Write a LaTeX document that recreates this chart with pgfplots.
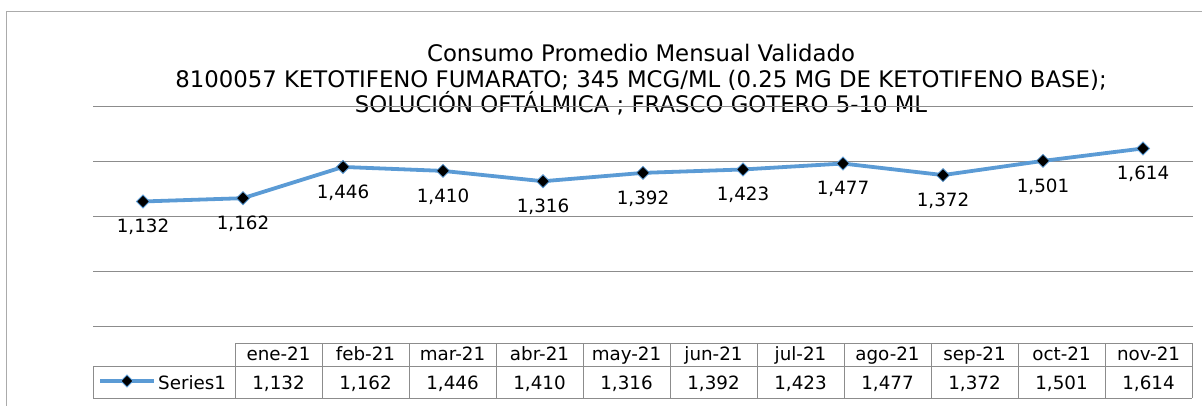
\documentclass[border=0pt]{standalone}
\usepackage{pgfplots}
\pgfplotsset{compat=1.18}
\usepackage{fontspec}
\setmainfont{DejaVu Sans}
\definecolor{serie}{HTML}{5B9BD5}
\definecolor{grillas}{HTML}{8C8C8C}
\definecolor{marco}{HTML}{ABABAB}

\newcommand{\meses}{ene-21,feb-21,mar-21,abr-21,may-21,jun-21,jul-21,ago-21,sep-21,oct-21,nov-21}

\begin{document}
\begin{tikzpicture}[x=1pt,y=1pt]
\path[use as bounding box] (0,0) rectangle (1202,405);
% marco del area del grafico
\draw[marco, line width=1pt] (6,-5) -- (6,393.5) -- (1210,393.5);

% titulo
\begin{scope}[every node/.style={font=\fontsize{22.8}{25}\selectfont, anchor=base, inner sep=0pt}]
\node at (641,343) {Consumo Promedio Mensual Validado};
\node at (641,317) {8100057 KETOTIFENO FUMARATO; 345 MCG/ML (0.25 MG DE KETOTIFENO BASE);};
\node at (641,292) {SOLUCIÓN OFTÁLMICA ; FRASCO GOTERO 5-10 ML};
\end{scope}

\begin{axis}[
    at={(93pt,79pt)}, anchor=south west,
    scale only axis, width=1100pt, height=220pt,
    xmin=-0.5, xmax=10.5, ymin=0, ymax=2000,
    ytick={0,500,...,2000}, yticklabels={},
    xtick=\empty,
    ymajorgrids,
    major grid style={grillas, line width=1pt},
    axis line style={draw=none},
    major tick length=0pt,
    clip=false,
]
\addplot[serie, line width=3.8pt, mark=square*, mark size=4.6pt,
    mark options={fill=black, draw=serie, line width=0.8pt, rotate=45},
    nodes near coords={\pgfmathprintnumber[fixed, precision=0, 1000 sep={,}, assume math mode=true]{\pgfplotspointmeta}},
    every node near coord/.append style={anchor=north, yshift=-14pt, text=black, font=\fontsize{18.3}{18.3}\selectfont},
] coordinates {
    (0,1132) (1,1162) (2,1446) (3,1410) (4,1316) (5,1392)
    (6,1423) (7,1477) (8,1372) (9,1501) (10,1614)
};
\end{axis}

% tabla de datos
\begin{scope}[grillas, line width=1pt]
\draw (235,62) -- (1192,62);
\draw (93,39) -- (1192,39);
\draw (93,7) -- (1192,7);
\draw (93,39) -- (93,7);
\foreach \i in {0,...,11} \draw (235+87*\i,62) -- (235+87*\i,7);
\end{scope}
\foreach \m [count=\i] in \meses
  \node[font=\fontsize{18.3}{18.3}\selectfont, anchor=base] at (235+87*\i-43.5,45) {\m};
\foreach \v/\i in {1{,}132/1,1{,}162/2,1{,}446/3,1{,}410/4,1{,}316/5,1{,}392/6,1{,}423/7,1{,}477/8,1{,}372/9,1{,}501/10,1{,}614/11}
  \node[font=\fontsize{18.3}{18.3}\selectfont, anchor=base] at (235+87*\i-43.5,16) {\v};
\draw[serie, line width=3.8pt] (100,24) -- (154,24);
\path[fill=black, draw=serie, line width=0.8pt] (127,30) -- (133,24) -- (127,18) -- (121,24) -- cycle;
\node[font=\fontsize{18.3}{18.3}\selectfont, anchor=base west, inner sep=0pt] at (158,16) {Series1};
\end{tikzpicture}
\end{document}
